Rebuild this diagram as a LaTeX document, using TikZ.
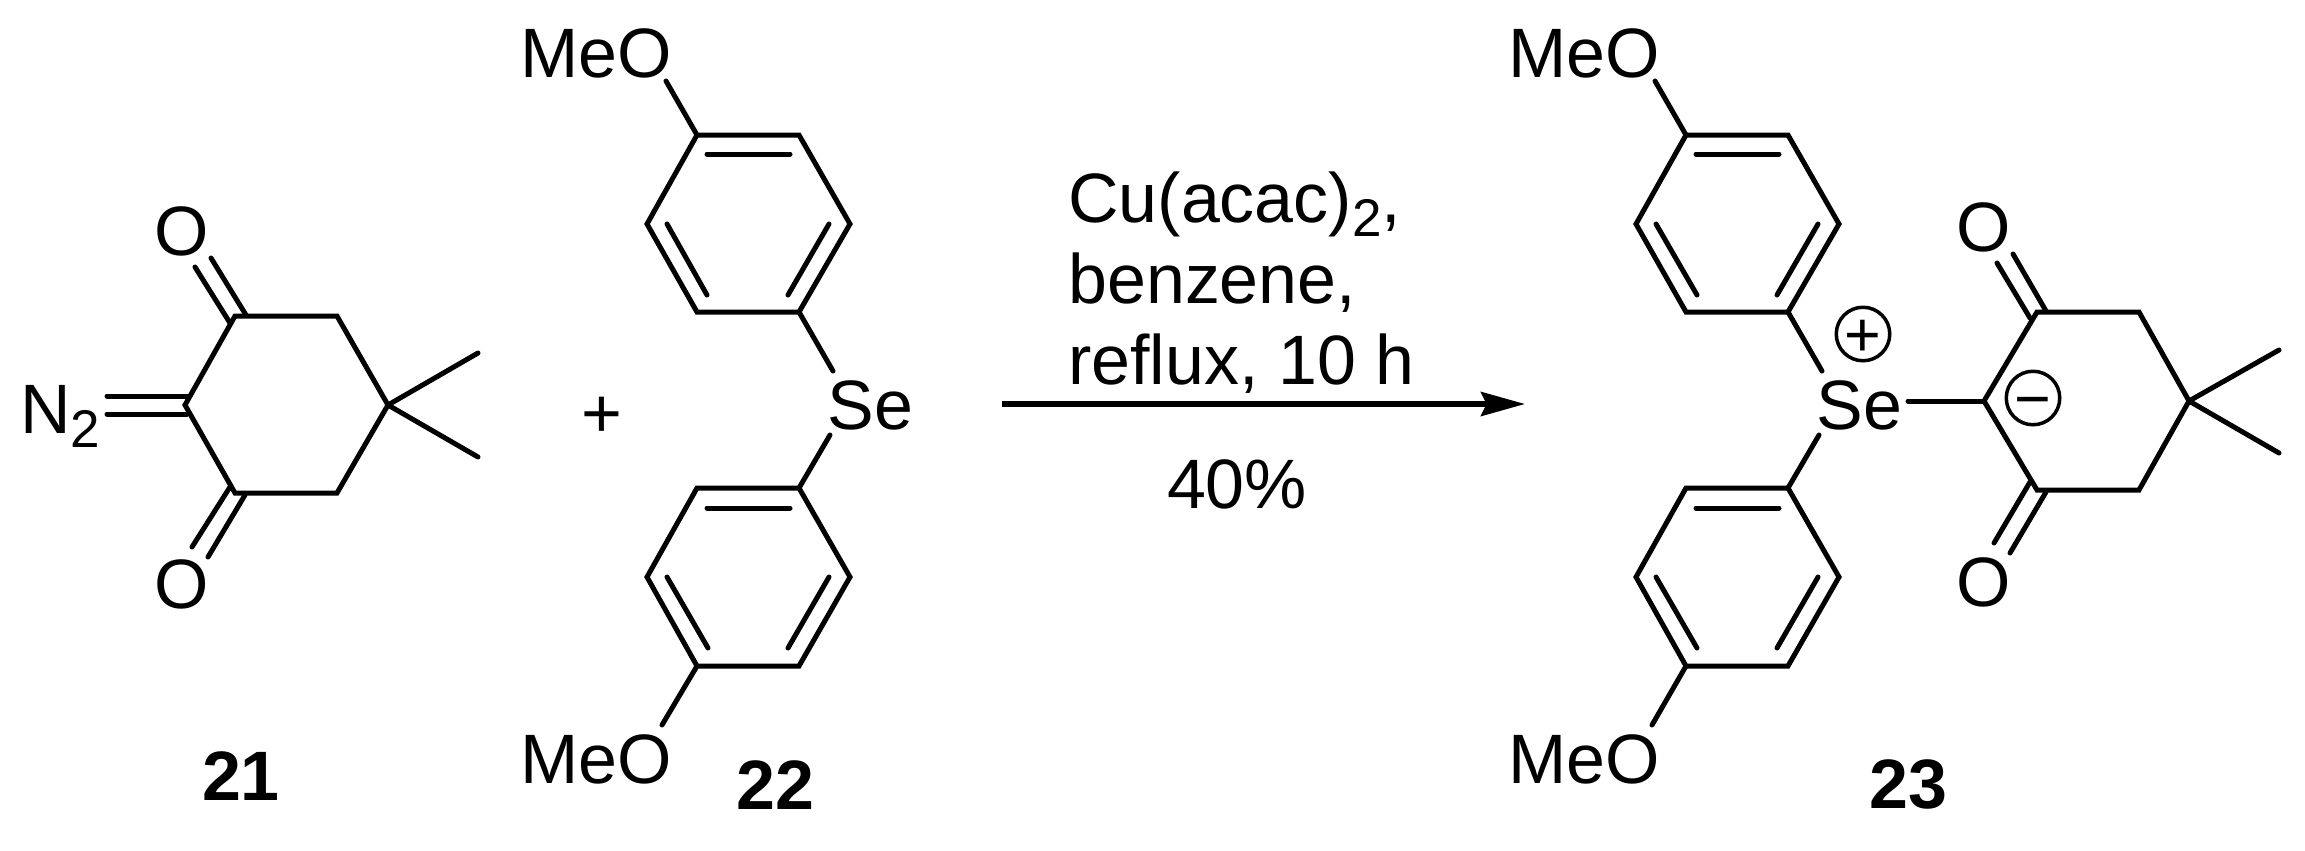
\documentclass[tikz,border=0pt]{standalone}
\usepackage{fontspec}
\setmainfont{Liberation Sans}[Ligatures=NoCommon]
\usetikzlibrary{arrows.meta}
\newcommand{\lowtwo}{\raisebox{-0.29cm}{\fontsize{30.2}{36}\selectfont 2}}
\begin{document}
\begin{tikzpicture}[x=0.02cm,y=-0.02cm,
  bond/.style={line width=0.1cm,line cap=round,line join=miter},
  atom/.style={font=\fontsize{39.8}{48}\selectfont,inner sep=0pt,anchor=base west},
  mid/.style={atom,anchor=base},
  tag/.style={mid,font=\fontsize{39.8}{48}\selectfont\bfseries},
  charge/.style={circle,draw,line width=0.07cm,inner sep=-5pt,minimum size=1.07cm,
    font=\fontsize{35.8}{40}\selectfont,text height=25.5pt,text depth=0pt}]
  \useasboundingbox (0,0) rectangle (2305,850);
  \path (185,405) coordinate (a1) (235,316) coordinate (a2) (337,316) coordinate (a3)
    (388,405) coordinate (a4) (337,493) coordinate (a5) (235,493) coordinate (a6)
    (478,353) coordinate (a7) (478,457) coordinate (a8)
    (107,396) coordinate (a9) (187,396) coordinate (a10)
    (107,414) coordinate (a11) (187,414) coordinate (a12)
    (246,315) coordinate (a13) (211,258) coordinate (a14)
    (230,323) coordinate (a15) (195,267) coordinate (a16)
    (245,495) coordinate (a17) (208,557) coordinate (a18)
    (230,487) coordinate (a19) (192,547) coordinate (a20);
  \path (697,135) coordinate (b1) (799,135) coordinate (b2) (850,224) coordinate (b3)
    (799,312) coordinate (b4) (697,312) coordinate (b5) (647,224) coordinate (b6)
    (707,154) coordinate (b7) (790,154) coordinate (b8)
    (667,224) coordinate (b9) (707,295) coordinate (b10)
    (829,224) coordinate (b11) (788,295) coordinate (b12)
    (666,81) coordinate (b13) (833,371) coordinate (b14);
  \path (697,488) coordinate (c1) (799,488) coordinate (c2) (850,577) coordinate (c3)
    (799,666) coordinate (c4) (697,666) coordinate (c5) (647,577) coordinate (c6)
    (707,508) coordinate (c7) (790,508) coordinate (c8)
    (667,577) coordinate (c9) (708,648) coordinate (c10)
    (829,577) coordinate (c11) (788,648) coordinate (c12)
    (662,725) coordinate (c13) (830,435) coordinate (c14);
  \path (1686,135) coordinate (d1) (1788,135) coordinate (d2) (1839,224) coordinate (d3)
    (1788,312) coordinate (d4) (1686,312) coordinate (d5) (1636,224) coordinate (d6)
    (1696,154) coordinate (d7) (1779,154) coordinate (d8)
    (1656,224) coordinate (d9) (1697,295) coordinate (d10)
    (1818,224) coordinate (d11) (1777,295) coordinate (d12)
    (1655,81) coordinate (d13) (1822,371) coordinate (d14);
  \path (1686,488) coordinate (e1) (1788,488) coordinate (e2) (1839,577) coordinate (e3)
    (1788,666) coordinate (e4) (1686,666) coordinate (e5) (1636,577) coordinate (e6)
    (1696,508) coordinate (e7) (1779,508) coordinate (e8)
    (1656,577) coordinate (e9) (1697,648) coordinate (e10)
    (1818,577) coordinate (e11) (1777,648) coordinate (e12)
    (1652,725) coordinate (e13) (1819,435) coordinate (e14);
  \path (1984,401) coordinate (f1) (2037,312) coordinate (f2) (2139,312) coordinate (f3)
    (2189,401) coordinate (f4) (2139,490) coordinate (f5) (2037,490) coordinate (f6)
    (2279,350) coordinate (f7) (2279,453) coordinate (f8)
    (1908,401) coordinate (f9)
    (2046,311) coordinate (f10) (2013,254) coordinate (f11)
    (2030,318) coordinate (f12) (1997,263) coordinate (f13)
    (2046,492) coordinate (f14) (2010,553) coordinate (f15)
    (2030,482) coordinate (f16) (1994,543) coordinate (f17);
  \coordinate (start) at (1002,404);
  \coordinate (end) at (1525,404);

  \node[atom] (n2) at (20,433) {N\lowtwo};
  \node[mid] (o1) at (182,255) {O};
  \node[mid] (o2) at (182,608) {O};
  \node[mid] (plus) at (602,437) {+};
  \node[atom] (meo1) at (520,77) {MeO};
  \node[atom] (se1) at (827,429) {Se};
  \node[atom] (meo2) at (520,783) {MeO};
  \node[atom] (cond1) at (1068,222) {Cu(acac)\lowtwo,};
  \node[atom] (cond2) at (1068,303) {benzene,};
  \node[atom] (cond3) at (1068,384) {reflux, 10 h};
  \node[mid] (yield) at (1237,508) {40\%};
  \node[atom] (meo3) at (1508,77) {MeO};
  \node[atom] (se2) at (1816,429) {Se};
  \node[atom] (meo4) at (1508,783) {MeO};
  \node[mid] (o3) at (1984,251) {O};
  \node[mid] (o4) at (1984,606) {O};
  \node[charge] (pos) at (1863,334) {+};
  \node[charge] (neg) at (2033,398) {−};
  \node[tag] (t21) at (241,800) {21};
  \node[tag] (t22) at (775,809) {22};
  \node[tag] (t23) at (1908,808) {23};

  \draw[bond] (a1) -- (a2) -- (a3) -- (a4) -- (a5) -- (a6) -- cycle;
  \draw[bond] (a4) -- (a7);
  \draw[bond] (a4) -- (a8);
  \draw[bond] (a9) -- (a10);
  \draw[bond] (a11) -- (a12);
  \draw[bond] (a13) -- (a14);
  \draw[bond] (a15) -- (a16);
  \draw[bond] (a17) -- (a18);
  \draw[bond] (a19) -- (a20);

  \draw[bond] (b1) -- (b2) -- (b3) -- (b4) -- (b5) -- (b6) -- cycle;
  \draw[bond] (b7) -- (b8);
  \draw[bond] (b9) -- (b10);
  \draw[bond] (b11) -- (b12);
  \draw[bond] (b1) -- (b13);
  \draw[bond] (b4) -- (b14);

  \draw[bond] (c1) -- (c2) -- (c3) -- (c4) -- (c5) -- (c6) -- cycle;
  \draw[bond] (c7) -- (c8);
  \draw[bond] (c9) -- (c10);
  \draw[bond] (c11) -- (c12);
  \draw[bond] (c5) -- (c13);
  \draw[bond] (c2) -- (c14);

  \draw[line width=0.11cm,-{Stealth[length=0.88cm,width=0.48cm,inset=0.11cm]}] (start) -- (end);

  \draw[bond] (d1) -- (d2) -- (d3) -- (d4) -- (d5) -- (d6) -- cycle;
  \draw[bond] (d7) -- (d8);
  \draw[bond] (d9) -- (d10);
  \draw[bond] (d11) -- (d12);
  \draw[bond] (d1) -- (d13);
  \draw[bond] (d4) -- (d14);

  \draw[bond] (e1) -- (e2) -- (e3) -- (e4) -- (e5) -- (e6) -- cycle;
  \draw[bond] (e7) -- (e8);
  \draw[bond] (e9) -- (e10);
  \draw[bond] (e11) -- (e12);
  \draw[bond] (e5) -- (e13);
  \draw[bond] (e2) -- (e14);

  \draw[bond] (f1) -- (f2) -- (f3) -- (f4) -- (f5) -- (f6) -- cycle;
  \draw[bond] (f4) -- (f7);
  \draw[bond] (f4) -- (f8);
  \draw[bond] (f1) -- (f9);
  \draw[bond] (f10) -- (f11);
  \draw[bond] (f12) -- (f13);
  \draw[bond] (f14) -- (f15);
  \draw[bond] (f16) -- (f17);
\end{tikzpicture}
\end{document}
